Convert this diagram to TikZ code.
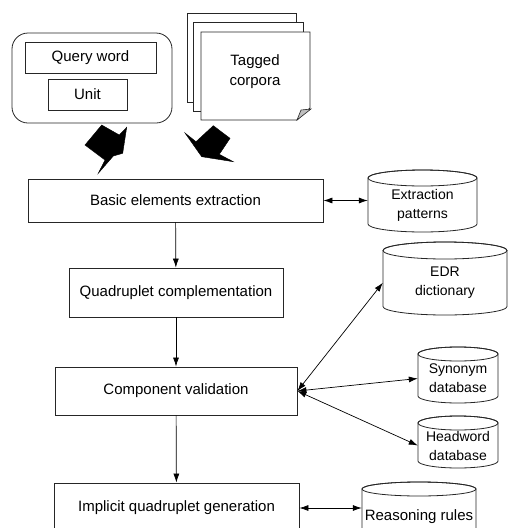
\documentclass[tikz,border=0pt]{standalone}
\usepackage{fontspec}
\setmainfont{Liberation Sans}
\usetikzlibrary{arrows.meta}

\begin{document}
\begin{tikzpicture}[x=1pt, y=-1pt,
    box/.style={draw=black!85, line width=0.8pt, fill=white, inner sep=0pt, font=\fontsize{15}{18}\selectfont},
    store/.style={inner sep=0pt, align=center},
    flow/.style={-{Latex[length=9pt,width=6pt]}, line width=0.7pt},
    link/.style={{Latex[length=9pt,width=6pt]}-{Latex[length=9pt,width=6pt]}, line width=0.7pt},
    bigarrow/.style={fill=black, draw=black, line join=miter}]
    \useasboundingbox (0,0) rectangle (508,528);
    \clip (0,0) rectangle (508,528);

    % inputs
    \draw[black!85, line width=0.8pt, rounded corners=16pt] (12,33) rectangle (172,123);
    \node[box, minimum width=131pt, minimum height=31pt] (query) at (90.5,57.5) {Query word};
    \node[box, minimum width=79pt, minimum height=31pt] (unit) at (87.5,94.5) {Unit};

    \draw[black!85, line width=0.8pt, fill=white] (187,13) rectangle (296,102);
    \draw[black!85, line width=0.8pt, fill=white] (193,22) rectangle (303,111);
    \draw[black!85, line width=0.8pt, fill=white] (201,32) -- (310,32) -- (310,108) -- (297,120) -- (201,120) -- cycle;
    \draw[black!85, line width=0.6pt, fill=black!25] (297,120) -- (311,109) -- (301,110) -- cycle;
    \node[store, font=\fontsize{15}{20}\selectfont] (corpora) at (255,72) {Tagged\\corpora};

    \draw[bigarrow] (85,145) -- (101.7,125) -- (119.3,135) -- (126.7,127.3) -- (122.7,153.3) -- (113.3,156) -- (98.3,173.3) -- (105,160) -- cycle;
    \draw[bigarrow] (185,133) -- (201.7,156.7) -- (233.3,161.7) -- (219.3,154.3) -- (230,138.3) -- (213.3,125.7) -- (196,141.7) -- cycle;

    % steps
    \node[box, minimum width=295pt, minimum height=43pt] (basic) at (175.5,200.5) {Basic elements extraction};
    \node[box, minimum width=214pt, minimum height=49pt] (quad) at (176,292.5) {Quadruplet complementation};
    \node[box, minimum width=242pt, minimum height=48pt] (comp) at (176,391) {Component validation};
    \node[box, minimum width=245pt, minimum height=50pt] (impl) at (176.5,508) {Implicit quadruplet generation};

    \draw[flow] (basic) -- (quad);
    \draw[flow] (quad) -- (comp);
    \draw[flow] (comp) -- (impl);

    % resources
    \foreach \nm/\l/\r/\t/\b/\ry/\fs/\txt in {pat/368/477/170/232/8/14/{Extraction\\patterns}, edr/383/507/242/315/8.5/14/{EDR\\dictionary}, syn/418/498/347/403/7/14/{Synonym\\database}, head/418/498/416/468/7/14/{Headword\\database}, rea/362/476/482/545/7/15/{Reasoning rules}} {
        \draw[black!85, line width=0.8pt, fill=white] (\l,\t+\ry) -- (\l,\b-\ry) arc[start angle=180, end angle=0, x radius={(\r-\l)/2}, y radius=\ry] -- (\r,\t+\ry) arc[start angle=0, end angle=-180, x radius={(\r-\l)/2}, y radius=\ry] -- cycle;
        \draw[black!85, line width=0.8pt] ({(\l+\r)/2},\t+\ry) ellipse [x radius={(\r-\l)/2}, y radius=\ry];
        \node[store, font=\fontsize{\fs}{19}\selectfont, minimum width={(\r-\l)*1pt}] (\nm) at ({(\l+\r)/2},{(\t+\ry+\b)/2}) {\txt};
    }

    \draw[link] (basic.east) -- (basic.east -| pat.west);
    \draw[link] (comp.east) -- (edr.west);
    \draw[link] (comp.east) -- (syn.west);
    \draw[link] (comp.east) -- (head.west);
    \draw[link] (impl.east) -- (impl.east -| rea.west);
\end{tikzpicture}
\end{document}
